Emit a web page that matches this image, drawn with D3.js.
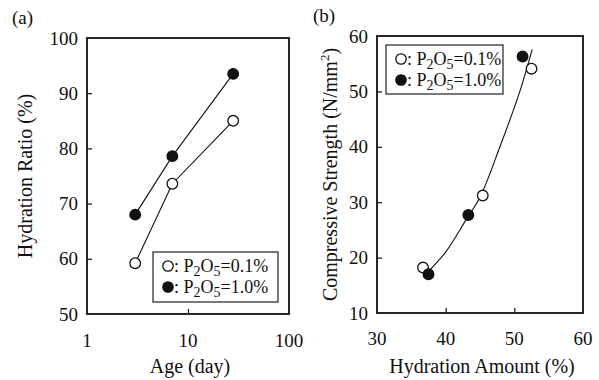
<!DOCTYPE html>
<html>
<head>
<meta charset="utf-8">
<script src="https://cdn.jsdelivr.net/npm/d3@7"></script>
<style>
  html, body { margin: 0; padding: 0; background: #fff; }
  svg text { font-family: "Liberation Serif", "Times New Roman", serif; fill: #111; }
</style>
</head>
<body>
<svg id="chart" width="599" height="380"></svg>
<script>
// ---------- Data ----------
// Panel (a): Hydration ratio vs age
const ageDays = [3, 7, 28];
const ratioLow = [59.2, 73.6, 85.0];    // P2O5 = 0.1% (open)
const ratioHigh = [68.0, 78.6, 93.5];   // P2O5 = 1.0% (filled)
const ageTicks = [1, 10, 100];
const ratioTicks = [50, 60, 70, 80, 90, 100];

// Panel (b): Compressive strength vs hydration amount
const amountLow = [36.7, 45.4, 52.5];
const strengthLow = [18.2, 31.2, 54.1];
const amountHigh = [37.5, 43.3, 51.2];
const strengthHigh = [17.0, 27.7, 56.3];
// hand-drawn trend curve
const fitAmount = [37.7, 40.0, 43.0, 45.0, 47.9, 50.8, 52.6];
const fitStrength = [17.8, 21.0, 26.9, 30.9, 40.0, 50.0, 57.6];
const amountTicks = [30, 40, 50, 60];
const strengthTicks = [10, 20, 30, 40, 50, 60];

const legendLabels = ["0.1%", "1.0%"];

// ---------- Drawing ----------
const svg = d3.select("#chart");

function frame(g, x0, y0, w, h) {
  g.append("rect").attr("x", x0).attr("y", y0).attr("width", w).attr("height", h)
    .attr("fill", "none").attr("stroke", "#111").attr("stroke-width", 1.8);
}

function legend(g, x, y, w, h) {
  g.append("rect").attr("x", x).attr("y", y).attr("width", w).attr("height", h)
    .attr("fill", "#fff").attr("stroke", "#222").attr("stroke-width", 1.2);
  legendLabels.forEach((lab, i) => {
    const cy = y + 14 + i * 21;
    g.append("circle").attr("cx", x + 15).attr("cy", cy).attr("r", 5.2)
      .attr("fill", i === 0 ? "#fff" : "#111").attr("stroke", "#111").attr("stroke-width", 1.3);
    const t = g.append("text").attr("x", x + 21).attr("y", cy + 6).attr("font-size", 18);
    t.append("tspan").text(": P");
    t.append("tspan").attr("font-size", 14).attr("dy", 4).text("2");
    t.append("tspan").attr("dy", -4).text("O");
    t.append("tspan").attr("font-size", 14).attr("dy", 4).text("5");
    t.append("tspan").attr("dy", -4).text("=" + lab);
  });
}

function markers(g, xs, ys, x, y, filled) {
  g.selectAll(null).data(xs.map((d, i) => [d, ys[i]])).enter().append("circle")
    .attr("cx", d => x(d[0])).attr("cy", d => y(d[1])).attr("r", 5.3)
    .attr("fill", filled ? "#111" : "#fff").attr("stroke", "#111").attr("stroke-width", 1.3);
}

// ===== Panel (a) =====
{
  const L = 87, R = 289, T = 38, B = 314;
  const x = d3.scaleLog().domain([1, 100]).range([L, R]);
  const y = d3.scaleLinear().domain([50, 100]).range([B, T]);
  const g = svg.append("g");

  // inward ticks
  const yAx = d3.axisRight(y).tickValues(ratioTicks.slice(1, -1)).tickSize(5).tickFormat("");
  g.append("g").attr("transform", `translate(${L},0)`).call(yAx)
    .call(s => s.select(".domain").remove())
    .call(s => s.selectAll("line").attr("stroke", "#111").attr("stroke-width", 1.2));
  const xAx = d3.axisTop(x).tickValues([10]).tickSize(5).tickFormat("");
  g.append("g").attr("transform", `translate(0,${B})`).call(xAx)
    .call(s => s.select(".domain").remove())
    .call(s => s.selectAll("line").attr("stroke", "#111").attr("stroke-width", 1.2));

  // tick labels
  g.selectAll(null).data(ratioTicks).enter().append("text")
    .attr("x", L - 9).attr("y", d => y(d)).attr("dy", "0.35em")
    .attr("text-anchor", "end").attr("font-size", 19).text(d => d);
  g.selectAll(null).data(ageTicks).enter().append("text")
    .attr("x", d => x(d)).attr("y", B + 33)
    .attr("text-anchor", "middle").attr("font-size", 19).text(d => d);

  // lines
  const ptsLow = ageDays.map((d, i) => [x(d), y(ratioLow[i])]);
  const ptsHigh = ageDays.map((d, i) => [x(d), y(ratioHigh[i])]);
  g.append("path").attr("d", d3.line()(ptsLow))
    .attr("fill", "none").attr("stroke", "#111").attr("stroke-width", 1.1);
  g.append("path").attr("d", d3.line()(ptsHigh))
    .attr("fill", "none").attr("stroke", "#111").attr("stroke-width", 1.1);

  frame(g, L, T, R - L, B - T);
  markers(g, ageDays, ratioLow, x, y, false);
  markers(g, ageDays, ratioHigh, x, y, true);
  legend(g, 153, 252, 125, 50);

  g.append("text").attr("transform", `translate(25,${(T + B) / 2}) rotate(-90)`)
    .attr("text-anchor", "middle").attr("dy", "0.35em").attr("font-size", 20)
    .text("Hydration Ratio (%)");
  g.append("text").attr("x", (L + R) / 2 + 2).attr("y", 373)
    .attr("text-anchor", "middle").attr("font-size", 20).text("Age (day)");
  g.append("text").attr("x", 12).attr("y", 24).attr("font-size", 19).text("(a)");
}

// ===== Panel (b) =====
{
  const L = 377, R = 583, T = 36, B = 313;
  const x = d3.scaleLinear().domain([30, 60]).range([L, R]);
  const y = d3.scaleLinear().domain([10, 60]).range([B, T]);
  const g = svg.append("g");

  const yAx = d3.axisRight(y).tickValues(strengthTicks.slice(1, -1)).tickSize(5).tickFormat("");
  g.append("g").attr("transform", `translate(${L},0)`).call(yAx)
    .call(s => s.select(".domain").remove())
    .call(s => s.selectAll("line").attr("stroke", "#111").attr("stroke-width", 1.2));
  const xAx = d3.axisTop(x).tickValues(amountTicks.slice(1, -1)).tickSize(5).tickFormat("");
  g.append("g").attr("transform", `translate(0,${B})`).call(xAx)
    .call(s => s.select(".domain").remove())
    .call(s => s.selectAll("line").attr("stroke", "#111").attr("stroke-width", 1.2));

  g.selectAll(null).data(strengthTicks).enter().append("text")
    .attr("x", L - 9).attr("y", d => y(d)).attr("dy", "0.35em")
    .attr("text-anchor", "end").attr("font-size", 19).text(d => d);
  g.selectAll(null).data(amountTicks).enter().append("text")
    .attr("x", d => x(d)).attr("y", B + 32)
    .attr("text-anchor", "middle").attr("font-size", 19).text(d => d);

  const fitPts = fitAmount.map((d, i) => [x(d), y(fitStrength[i])]);
  g.append("path").attr("d", d3.line().curve(d3.curveCatmullRom)(fitPts))
    .attr("fill", "none").attr("stroke", "#111").attr("stroke-width", 1.1);

  frame(g, L, T, R - L, B - T);
  markers(g, amountLow, strengthLow, x, y, false);
  markers(g, amountHigh, strengthHigh, x, y, true);
  legend(g, 386, 45, 117, 49);

  const yl = g.append("text").attr("transform", `translate(330,${(T + B) / 2}) rotate(-90)`)
    .attr("text-anchor", "middle").attr("dy", "0.35em").attr("font-size", 20);
  yl.append("tspan").text("Compressive Strength (N/mm");
  yl.append("tspan").attr("font-size", 13).attr("dy", -8).text("2");
  yl.append("tspan").attr("dy", 8).text(")");
  g.append("text").attr("x", (L + R) / 2 + 2).attr("y", 373)
    .attr("text-anchor", "middle").attr("font-size", 20).text("Hydration Amount (%)");
  g.append("text").attr("x", 313).attr("y", 22).attr("font-size", 19).text("(b)");
}
</script>
</body>
</html>
